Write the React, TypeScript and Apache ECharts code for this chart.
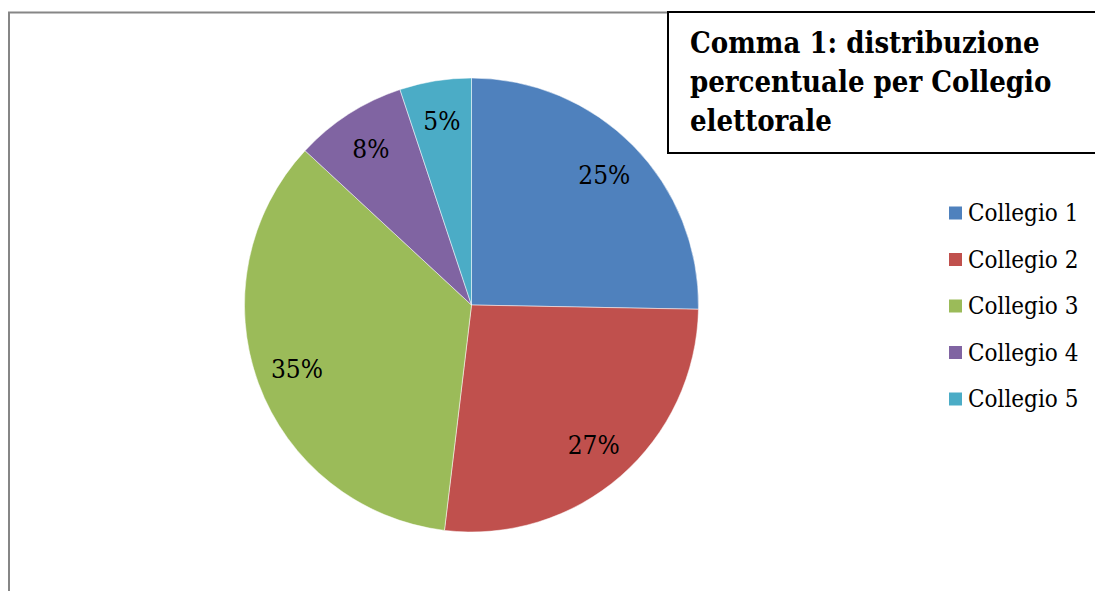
import React, { useEffect, useRef } from "react";
import * as echarts from "echarts";

const categories = ["Collegio 1", "Collegio 2", "Collegio 3", "Collegio 4", "Collegio 5"];
const values = [25.3, 26.6, 35.0, 8.0, 5.1];
const colors = ["#4F81BD", "#C0504D", "#9BBB59", "#8064A2", "#4BACC6"];
const titleLines = ["Comma 1: distribuzione", "percentuale per Collegio", "elettorale"];

const FONT = "'DejaVu Serif Condensed', 'DejaVu Serif', serif";

export default function App() {
  const ref = useRef<HTMLDivElement>(null);
  useEffect(() => {
    document.body.style.margin = "0";
    const chart = echarts.init(ref.current!, null, { renderer: "svg" });
    const data = categories.map((name, i) => ({ name, value: values[i], itemStyle: { color: colors[i] } }));
    chart.setOption({
      animation: false,
      backgroundColor: "#ffffff",
      legend: {
        orient: "vertical",
        left: 942,
        top: 196,
        itemWidth: 15,
        itemHeight: 15,
        itemGap: 22.5,
        icon: "rect",
        data: categories,
        textStyle: { fontFamily: FONT, fontSize: 24, lineHeight: 24, color: "#000" },
      },
      graphic: [
        {
          type: "rect",
          shape: { x: 9, y: 12.5, width: 1200, height: 700 },
          style: { fill: "none", stroke: "#868686", lineWidth: 2 },
          z: 0,
          silent: true,
        },
        {
          type: "rect",
          shape: { x: 668, y: 12, width: 500, height: 141 },
          style: { fill: "#ffffff", stroke: "#000000", lineWidth: 2 },
          z: 10,
          silent: true,
        },
        ...titleLines.map((t, i) => ({
          type: "text",
          x: 690,
          y: 43 + i * 39,
          z: 11,
          style: {
            text: t,
            fontFamily: FONT,
            fontWeight: "bold",
            fontSize: 29,
            fill: "#000",
            textVerticalAlign: "middle",
            verticalAlign: "middle",
          },
        })),
      ],
      series: [
        {
          type: "pie",
          center: [471.5, 305],
          radius: [0, 227],
          startAngle: 90,
          clockwise: true,
          data,
          label: { show: false },
          labelLine: { show: false },
          itemStyle: { borderColor: "#ffffff", borderWidth: 0.5 },
          silent: true,
        },
        {
          type: "pie",
          center: [471.5, 305],
          radius: [0, 366],
          startAngle: 90,
          clockwise: true,
          data: categories.map((name, i) => ({ name, value: values[i] })),
          itemStyle: { color: "rgba(0,0,0,0)", borderWidth: 0 },
          label: {
            show: true,
            position: "inside",
            formatter: (p: any) => Math.round(p.value) + "%",
            fontFamily: FONT,
            fontSize: 26,
            color: "#000",
          },
          labelLine: { show: false },
          silent: true,
          legendHoverLink: false,
        },
      ],
    });
    return () => chart.dispose();
  }, []);
  return <div ref={ref} style={{ width: 1095, height: 591 }} />;
}
